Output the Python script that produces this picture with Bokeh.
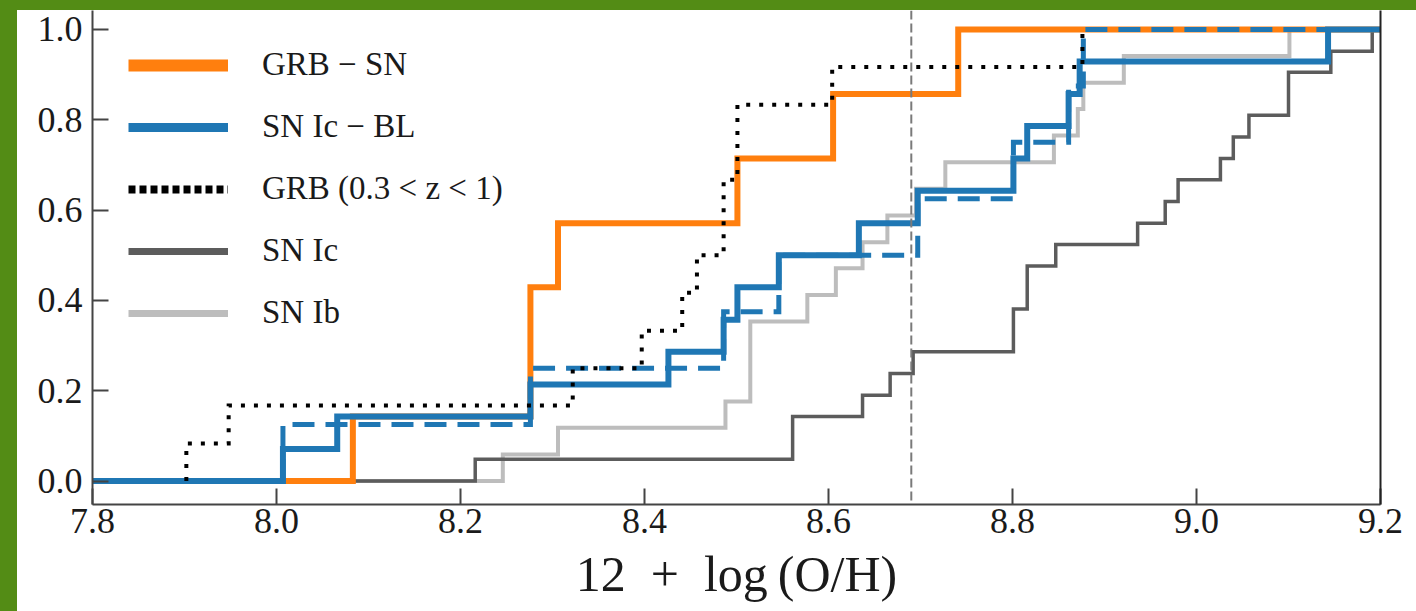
from bokeh.plotting import figure
from bokeh.models import (Range1d, FixedTicker, PrintfTickFormatter, Span, Legend,
                          LegendItem, LinearAxis, Spacer)
from bokeh.layouts import row, column
from bokeh.embed import file_html
from bokeh.resources import INLINE

X_MIN, X_MAX = 7.8, 9.2
Y_MIN, Y_MAX = -0.052, 1.042
SOLAR = 8.69

x_ticks = [7.8, 8.0, 8.2, 8.4, 8.6, 8.8, 9.0, 9.2]
y_ticks = [0.0, 0.2, 0.4, 0.6, 0.8, 1.0]

# GRB - SN
grb_sn_x = [8.083, 8.276, 8.306, 8.501, 8.605, 8.741]
grb_sn_y = [0.143, 0.429, 0.571, 0.714, 0.857, 1.0]

# SN Ic - BL (solid)
icbl_x = [8.007, 8.066, 8.276, 8.426, 8.486, 8.501, 8.546, 8.633, 8.697,
          8.801, 8.816, 8.861, 8.873, 9.143]
icbl_y = [0.071, 0.143, 0.214, 0.286, 0.357, 0.429, 0.5, 0.571, 0.643,
          0.714, 0.786, 0.857, 0.929, 1.0]

# SN Ic - BL subsample (dashed)
icbl_sub_x = [8.007, 8.276, 8.486, 8.546, 8.697, 8.801, 8.861, 8.877]
icbl_sub_y = [0.125, 0.25, 0.375, 0.5, 0.625, 0.75, 0.875, 1.0]

# GRB (0.3 < z < 1)
grb_z_x = [7.902, 7.948, 8.322, 8.397, 8.441, 8.457, 8.486, 8.501, 8.604, 8.876]
grb_z_y = [0.083, 0.167, 0.25, 0.333, 0.417, 0.5, 0.667, 0.833, 0.917, 1.0]

# SN Ic
ic_x = [8.216, 8.561, 8.637, 8.667, 8.692, 8.801, 8.816, 8.847, 8.936, 8.966,
        8.980, 9.026, 9.040, 9.057, 9.100, 9.146, 9.191]
ic_y = [0.048, 0.143, 0.190, 0.238, 0.286, 0.381, 0.476, 0.524, 0.571, 0.619,
        0.667, 0.714, 0.762, 0.810, 0.905, 0.952, 1.0]

# SN Ib
ib_x = [8.246, 8.306, 8.488, 8.515, 8.577, 8.608, 8.637, 8.664, 8.695, 8.727,
        8.845, 8.871, 8.877, 8.921, 9.101]
ib_y = [0.059, 0.118, 0.176, 0.353, 0.412, 0.471, 0.529, 0.588, 0.647, 0.706,
        0.765, 0.824, 0.882, 0.941, 1.0]

ORANGE = "#ff7f0e"
BLUE = "#1f77b4"
DARK = "#5c5c5c"
LIGHT = "#bdbdbd"
GREEN = "#538c15"
FONT = "Liberation Serif"
NAN = float("nan")


def full(xs, ys):
    return [X_MIN] + xs + [X_MAX], [0.0] + ys + [ys[-1]]


def from_first(xs, ys, extend=True):
    X = [xs[0]] + xs + ([X_MAX] if extend else [])
    Y = [0.0] + ys + ([ys[-1]] if extend else [])
    return X, Y


p = figure(width=1399, height=601,
           x_range=Range1d(X_MIN, X_MAX), y_range=Range1d(Y_MIN, Y_MAX),
           output_backend="svg", toolbar_location=None,
           min_border_left=75, min_border_right=36, min_border_top=0,
           min_border_bottom=107, outline_line_color=None,
           background_fill_color="white", border_fill_color="white")
p.grid.visible = False

kw = dict(mode="after", line_join="miter")
X, Y = full(ib_x, ib_y)
p.step(X, Y, line_color=LIGHT, line_width=4, **kw)
X, Y = full(ic_x, ic_y)
p.step(X, Y, line_color=DARK, line_width=3.5, **kw)
X, Y = full(grb_sn_x, grb_sn_y)
p.step(X, Y, line_color=ORANGE, line_width=6, **kw)
X, Y = full(icbl_x, icbl_y)
p.step(X, Y, line_color=BLUE, line_width=6, **kw)
X, Y = from_first(icbl_sub_x, icbl_sub_y)
p.step(X, Y, line_color=BLUE, line_width=5, line_dash="22 11", **kw)
X, Y = from_first(grb_z_x, grb_z_y, extend=False)
p.step(X, Y, line_color="black", line_width=4, line_dash="4 9", **kw)

p.add_layout(Span(location=SOLAR, dimension="height", line_color="#7a7a7a",
                  line_width=2, line_dash="9 4"))

# legend handles (thicker, as in the reference); NaN data so nothing is drawn in the plot
h1 = p.line([NAN], [NAN], line_color=ORANGE, line_width=12)
h2 = p.line([NAN], [NAN], line_color=BLUE, line_width=9)
h3 = p.line([NAN], [NAN], line_color="black", line_width=8, line_dash="7 4")
h4 = p.line([NAN], [NAN], line_color=DARK, line_width=7)
h5 = p.line([NAN], [NAN], line_color=LIGHT, line_width=7)
legend = Legend(items=[
    LegendItem(label="GRB \u2212 SN", renderers=[h1]),
    LegendItem(label="SN Ic \u2212 BL", renderers=[h2]),
    LegendItem(label="GRB (0.3 < z < 1)", renderers=[h3]),
    LegendItem(label="SN Ic", renderers=[h4]),
    LegendItem(label="SN Ib", renderers=[h5]),
], location="top_left", margin=26, padding=10, glyph_width=100, glyph_height=36,
    label_height=36, label_standoff=34, spacing=25,
    label_text_font=FONT, label_text_font_size="33px", label_text_color="#1a1a1a",
    background_fill_alpha=0, border_line_alpha=0)
p.add_layout(legend)

for axes in (p.xaxis, p.yaxis):
    axes.axis_line_color = "#444444"
    axes.axis_line_width = 2
    axes.major_tick_line_color = "#444444"
    axes.major_tick_line_width = 2
    axes.major_tick_in = 16
    axes.major_tick_out = 0
    axes.minor_tick_line_color = None
    axes.major_label_text_font = FONT
    axes.major_label_text_font_size = "36px"
    axes.major_label_text_color = "#1a1a1a"
    axes.major_label_text_font_style = "normal"
    axes.formatter = PrintfTickFormatter(format="%.1f")

p.xaxis.ticker = FixedTicker(ticks=x_ticks)
p.yaxis.ticker = FixedTicker(ticks=y_ticks)
p.xaxis.major_label_standoff = 4
p.yaxis.major_label_standoff = 10
p.xaxis.axis_label = "12\u2002+\u2002log\u2009(O/H)"
p.xaxis.axis_label_text_font = FONT
p.xaxis.axis_label_text_font_size = "50px"
p.xaxis.axis_label_text_font_style = "normal"
p.xaxis.axis_label_text_color = "#1a1a1a"
p.xaxis.axis_label_standoff = 10

r_axis = LinearAxis(ticker=FixedTicker(ticks=[]), axis_line_color="#222222",
                    axis_line_width=2, major_tick_line_color=None,
                    minor_tick_line_color=None)
p.add_layout(r_axis, "right")

left_bar = Spacer(width=17, height=611, styles={"background-color": GREEN})
top_bar = Spacer(width=1399, height=10, styles={"background-color": GREEN})
layout = row(left_bar, column(top_bar, p))

open("out.html", "w").write(file_html(layout, INLINE))
